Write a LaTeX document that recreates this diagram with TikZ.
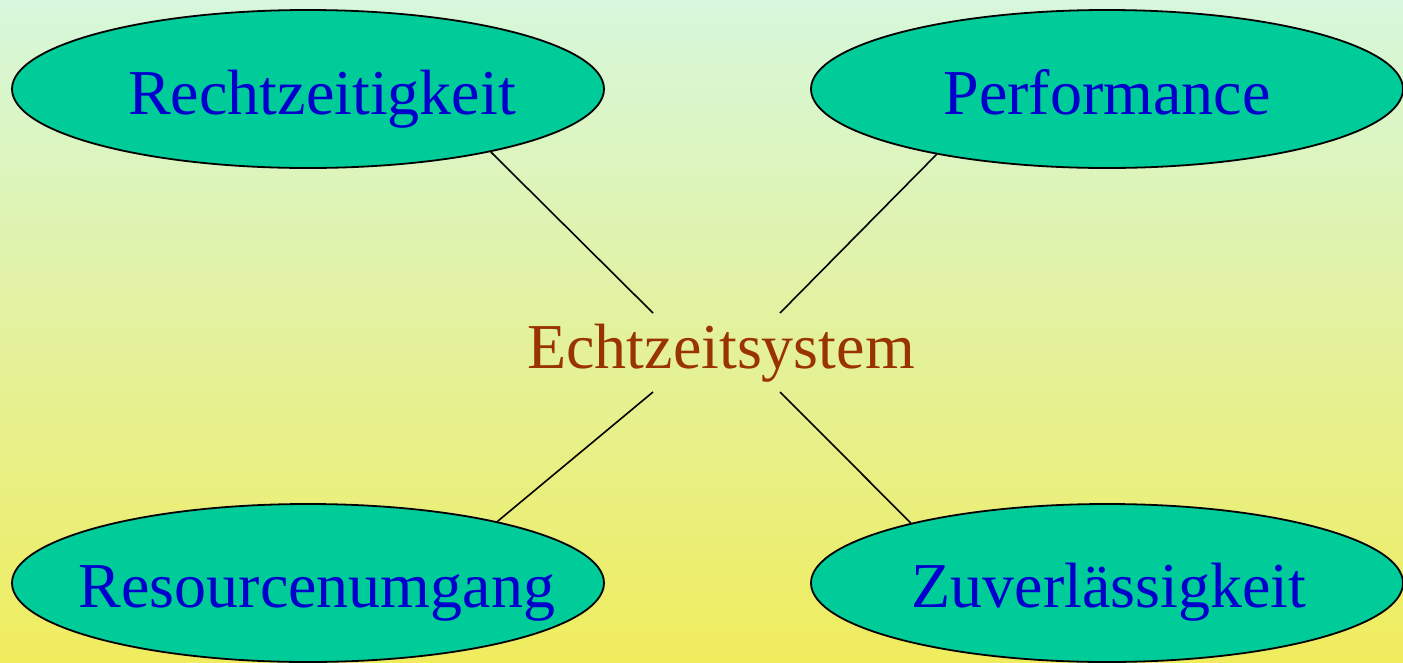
\documentclass[tikz,border=0pt]{standalone}
\usepackage{fontspec}
\setmainfont{Liberation Serif}
\usetikzlibrary{shapes.geometric}
\definecolor{bgtop}{RGB}{214,247,220}
\definecolor{bgbottom}{RGB}{240,236,94}
\definecolor{bubble}{RGB}{0,204,153}
\definecolor{labelblue}{RGB}{0,0,204}
\definecolor{corebrown}{RGB}{153,51,0}
\tikzset{
  quality/.style={ellipse, draw=black, line width=1.8pt, fill=bubble,
    minimum width=592pt, minimum height=158pt, inner sep=0pt},
  qlabel/.style={text=labelblue, font=\fontsize{64}{70}\selectfont,
    inner sep=0pt, anchor=base},
  core/.style={text=corebrown, font=\fontsize{64}{70}\selectfont,
    inner sep=0pt, anchor=base},
  link/.style={draw=black, line width=1.6pt}
}
\begin{document}
\begin{tikzpicture}[x=1pt,y=-1pt]
  % page background with vertical gradient
  \shade[top color=bgtop, bottom color=bgbottom] (0,0) rectangle (1403,662);
  \useasboundingbox (0,0) rectangle (1403,662);

  % central term and the free ends of its spokes
  \node[core] (sys) at (721,368) {Echtzeitsystem};
  \coordinate (nw) at (653,313);
  \coordinate (ne) at (780,313);
  \coordinate (sw) at (653,392);
  \coordinate (se) at (780,392);

  % the four qualities
  \node[quality] (rz) at (308,89) {};
  \node[quality] (pf) at (1107,89) {};
  \node[quality] (ru) at (308,583) {};
  \node[quality] (zv) at (1107,583) {};
  \node[qlabel] (rzt) at (322,114) {Rechtzeitigkeit};
  \node[qlabel] (pft) at (1107,114) {Performance};
  \node[qlabel] (rut) at (317,607) {Resourcenumgang};
  \node[qlabel] (zvt) at (1109,607) {Zuverlässigkeit};

  % spokes
  \draw[link] (rz.-19) -- (nw);
  \draw[link] (pf.201) -- (ne);
  \draw[link] (ru.18.5) -- (sw);
  \draw[link] (zv.163.5) -- (se);
\end{tikzpicture}
\end{document}
